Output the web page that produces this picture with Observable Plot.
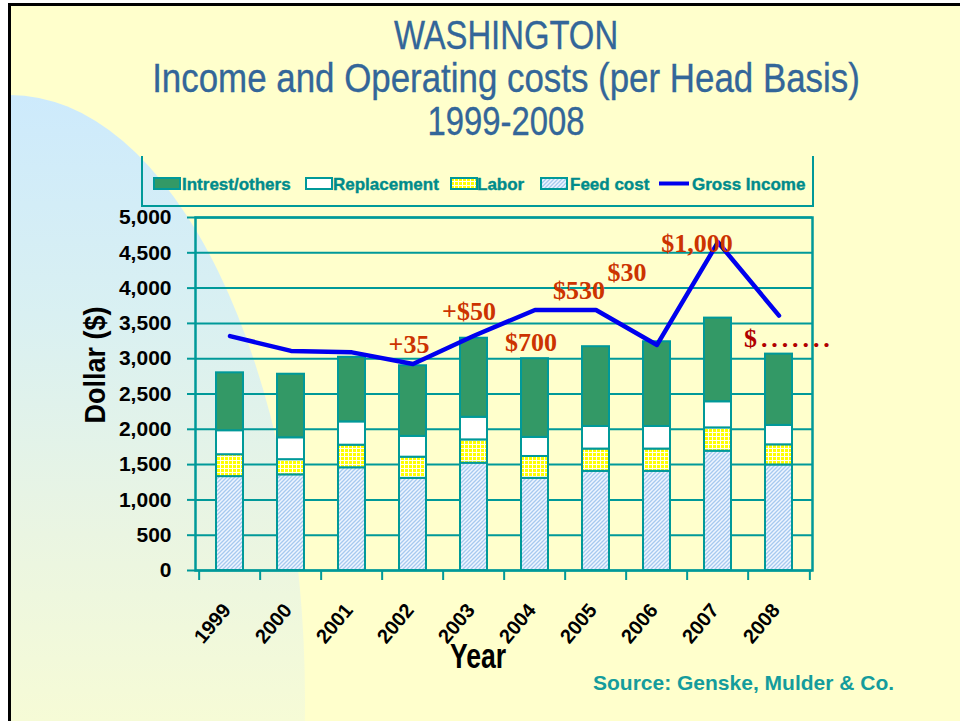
<!DOCTYPE html>
<html>
<head>
<meta charset="utf-8">
<script src="https://cdn.jsdelivr.net/npm/d3@7"></script>
<script src="https://cdn.jsdelivr.net/npm/@observablehq/plot@0.6"></script>
<style>
  html, body { margin: 0; padding: 0; background: #ffffff; }
  #page { position: relative; width: 960px; height: 721px; overflow: hidden; background: #ffffff; }
  #bg { position: absolute; left: 0; top: 0; }
  #title { position: absolute; left: 52px; right: 0; top: 14px; text-align: center;
    font-family: "Liberation Sans", Arial, sans-serif;
    font-size: 40px; line-height: 43px; color: #336699; white-space: nowrap; }
  #title div { transform: scaleX(0.82); transform-origin: 50% 50%; -webkit-text-stroke: 0.35px #336699; }
  #title div.wide { transform: scaleX(0.872); }
  #legendbox { position: absolute; left: 141px; top: 156px; width: 669px; height: 49px;
    border-left: 2px solid #009999; border-right: 2px solid #009999; border-bottom: 2px solid #009999; }
  .lg { position: absolute; top: 176px; font-family: "Liberation Sans", Arial, sans-serif; font-weight: bold;
    font-size: 17px; line-height: 17px; color: #008b8b; white-space: nowrap;
    -webkit-text-stroke: 0.4px #008b8b; }
  .sw { position: absolute; top: 177px; }
  #chart { position: absolute; left: 0; top: 140px; }
  .axtitle { position: absolute; font-family: "Liberation Sans", Arial, sans-serif; font-weight: bold;
    color: #000; white-space: nowrap; }
  #ylab { left: 95px; top: 365px; font-size: 30px; line-height: 30px;
    transform: translate(-50%, -50%) rotate(-90deg) scaleX(0.9); }
  #xlab { left: 478px; top: 638px; font-size: 35px; line-height: 35px;
    transform: scaleX(0.76) translateX(-50%); transform-origin: 0 0; }
  #source { position: absolute; left: 593px; top: 672px; font-family: "Liberation Sans", Arial, sans-serif;
    font-weight: bold; font-size: 21px; line-height: 21px; color: #149c9c; white-space: nowrap; }
</style>
</head>
<body>
<svg width="0" height="0" style="position:absolute">
  <defs>
    <pattern id="p-feed" patternUnits="userSpaceOnUse" width="4" height="4">
      <rect width="4" height="4" fill="#eef5ff"/>
      <path d="M-1,1 L1,-1 M0,4 L4,0 M3,5 L5,3" stroke="#a6c9ef" stroke-width="1.3"/>
    </pattern>
    <pattern id="p-labor" patternUnits="userSpaceOnUse" width="4" height="4">
      <rect width="4" height="4" fill="#ffff00"/>
      <path d="M0,0.5 H4 M0.5,0 V4" stroke="#fffff0" stroke-width="1"/>
    </pattern>
    <linearGradient id="g-blue" gradientUnits="userSpaceOnUse" x1="0" y1="95" x2="0" y2="721">
      <stop offset="0" stop-color="#cdeafc"/>
      <stop offset="0.35" stop-color="#d9f0f2"/>
      <stop offset="0.7" stop-color="#eaf5e2"/>
      <stop offset="1" stop-color="#f6fbd6"/>
    </linearGradient>
    <clipPath id="c-page"><rect x="10" y="5" width="950" height="716"/></clipPath>
  </defs>
</svg>
<div id="page">
  <svg id="bg" width="960" height="721">
    <rect x="9" y="4" width="951" height="717" fill="#ffffcc"/>
    <ellipse cx="10" cy="700" rx="295" ry="605" fill="url(#g-blue)" clip-path="url(#c-page)"/>
    <line x1="9.5" y1="3" x2="9.5" y2="721" stroke="#000" stroke-width="3"/>
    <line x1="8" y1="4.5" x2="960" y2="4.5" stroke="#000" stroke-width="3"/>
  </svg>
  <div id="title"><div>WASHINGTON</div><div class="wide">Income and Operating costs (per Head Basis)</div><div>1999-2008</div></div>
  <div id="legendbox"></div>
  <div id="legend"></div>
  <div id="chart"></div>
  <div id="ylab" class="axtitle">Dollar ($)</div>
  <div id="xlab" class="axtitle">Year</div>
  <div id="source">Source: Genske, Mulder &amp; Co.</div>
</div>
<script>
// ---- data ----
const years = ["1999", "2000", "2001", "2002", "2003", "2004", "2005", "2006", "2007", "2008"];
const seriesNames = ["Feed cost", "Labor", "Replacement", "Intrest/others"];
const feedCost = [1330, 1355, 1455, 1305, 1520, 1305, 1405, 1405, 1690, 1495];
const labor = [310, 215, 320, 300, 330, 310, 315, 315, 330, 285];
const replacement = [340, 310, 330, 295, 320, 270, 320, 320, 370, 275];
const interestOthers = [820, 900, 915, 1000, 1120, 1115, 1130, 1200, 1185, 1010];
const grossIncome = [3320, 3110, 3090, 2925, 3325, 3690, 3690, 3195, 4650, 3610];
const yTicks = [0, 500, 1000, 1500, 2000, 2500, 3000, 3500, 4000, 4500, 5000];
const noteLabels = ["+35", "+$50", "$700", "$530", "$30", "$1,000", "$"];
const noteYears = ["2002", "2003", "2004", "2005", "2006", "2007", "2008"];
const noteValues = [3198, 3665, 3231, 3966, 4221, 4623, 3290];

// ---- tables ----
const seriesValues = [feedCost, labor, replacement, interestOthers];
const rows = years.flatMap((year, i) => seriesNames.map((series, s) => ({year, series, value: seriesValues[s][i]})));
const income = years.map((year, i) => ({year, value: grossIncome[i]}));
const notes = noteLabels.map((label, i) => ({label, year: noteYears[i], value: noteValues[i]}));

// ---- layout / style ----
const W = 960, H = 581, mL = 195, mR = 148, mT = 77, mB = 151;
const step = (W - mL - mR) / years.length;
const teal = "#009999";
const serif = "'Liberation Serif', 'Times New Roman', serif";
const noteDx = [-4, -5, -4, -17, -30, -21];
const fills = ["url(#p-feed)", "url(#p-labor)", "#ffffff", "#339966"];

const chart = Plot.plot({
  width: W, height: H,
  marginLeft: mL, marginRight: mR, marginTop: mT, marginBottom: mB,
  style: {background: "transparent", fontFamily: "'Liberation Sans', Arial, sans-serif", overflow: "visible"},
  x: {type: "band", domain: years, paddingInner: 0.56, paddingOuter: 0.28, axis: null},
  y: {domain: [0, 5000], axis: null},
  color: {type: "ordinal", domain: seriesNames, range: fills},
  marks: [
    Plot.gridY(yTicks, {stroke: teal, strokeOpacity: 1, strokeWidth: 2}),
    Plot.barY(rows, {x: "year", y: "value", fill: "series", stroke: teal, strokeWidth: 2}),
    Plot.frame({stroke: teal, strokeWidth: 2.5}),
    Plot.axisY(yTicks, {tickFormat: d3.format(","), tickSize: 8, tickPadding: 16, stroke: teal, strokeWidth: 2,
      fill: "#000", fontSize: 21, fontWeight: "bold", label: null}),
    Plot.axisX(years, {tickSize: 10, tickFormat: () => "", dx: -step / 2, stroke: teal, strokeWidth: 2, label: null}),
    Plot.axisX([years[years.length - 1]], {tickSize: 10, tickFormat: () => "", dx: step / 2, stroke: teal, strokeWidth: 2, label: null}),
    Plot.axisX(years, {tickSize: 0, tickPadding: 36, tickRotate: -50, dx: -3, fill: "#000", fontSize: 20, fontWeight: "bold", label: null}),
    Plot.line(income, {x: "year", y: "value", stroke: "#0000ee", strokeWidth: 4.5}),
    ...notes.slice(0, 6).map((d, i) => Plot.text([d], {x: "year", y: "value", text: "label", dx: noteDx[i],
      fill: "#cc3300", fontSize: 26, fontWeight: "bold", fontFamily: serif})),
    Plot.text(notes.slice(6), {x: "year", y: "value", text: d => d.label + ".......", textAnchor: "start", dx: -35,
      fill: "#b00000", fontSize: 26, fontWeight: "bold", fontFamily: serif})
  ]
});
d3.select(chart).selectAll("text").filter(function () { return this.textContent.startsWith("$."); })
  .attr("letter-spacing", 3.9);
document.getElementById("chart").appendChild(chart);

// ---- legend (HTML) ----
const legendItems = [
  {name: "Intrest/others", fill: fills[3], sw: 153, tx: 182},
  {name: "Replacement", fill: fills[2], sw: 305, tx: 333},
  {name: "Labor", fill: fills[1], sw: 450, tx: 477},
  {name: "Feed cost", fill: fills[0], sw: 540, tx: 570},
  {name: "Gross Income", line: "#0000ee", sw: 659, tx: 692}
];
const legend = document.getElementById("legend");
for (const it of legendItems) {
  const s = document.createElementNS("http://www.w3.org/2000/svg", "svg");
  s.setAttribute("class", "sw");
  s.setAttribute("width", 30); s.setAttribute("height", 13);
  s.style.left = it.sw + "px";
  if (it.line) {
    s.innerHTML = `<line x1="0" x2="32" y1="6.5" y2="6.5" stroke="${it.line}" stroke-width="4"/>`;
  } else {
    s.innerHTML = `<rect x="1" y="1" width="26" height="11" fill="${it.fill}" stroke="${teal}" stroke-width="2"/>`;
  }
  legend.appendChild(s);
  const t = document.createElement("div");
  t.className = "lg";
  t.style.left = it.tx + "px";
  t.textContent = it.name;
  legend.appendChild(t);
}
</script>
</body>
</html>
